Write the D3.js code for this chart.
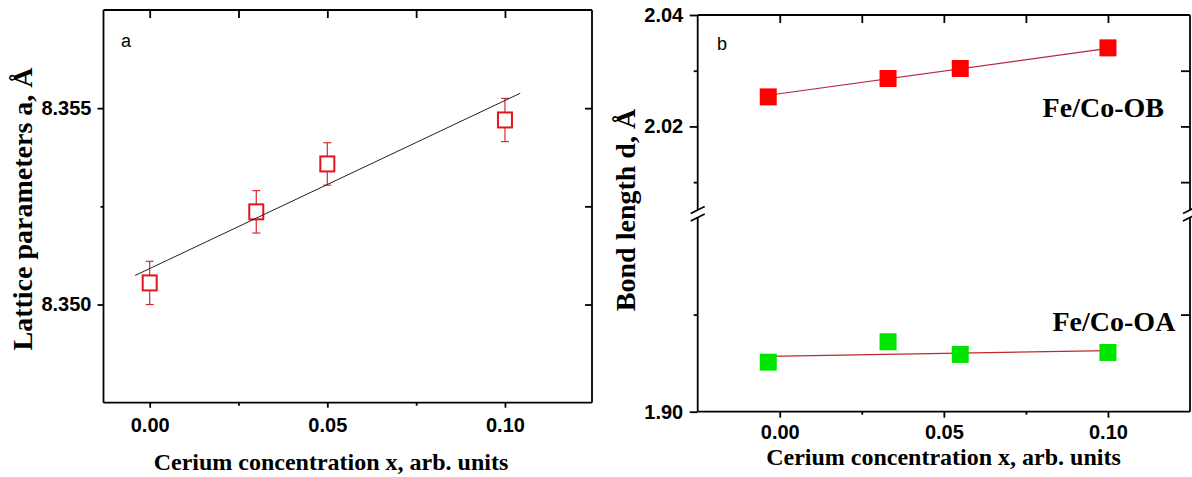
<!DOCTYPE html>
<html>
<head>
<meta charset="utf-8">
<script src="https://cdn.jsdelivr.net/npm/d3@7"></script>
<style>
  html, body { margin: 0; padding: 0; background: #fff; }
  svg { display: block; }
</style>
</head>
<body>
<svg id="chart" width="1192" height="477"></svg>
<script>
// ---------------- DATA ----------------
// Panel a: lattice parameter vs cerium concentration
const xA = [0.00, 0.03, 0.05, 0.10];
const latticeA = [8.35055, 8.35236, 8.35358, 8.35470];
const latticeErr = [0.00055, 0.00054, 0.00054, 0.00055];
const fitAx = [-0.0041, 0.1043];
const fitAy = [8.35074, 8.35538];
const xTicksMajorA = [0.00, 0.05, 0.10];
const xTicksMinorA = [0.025, 0.075];
const yTicksMajorA = [8.350, 8.355];
const yTicksMinorA = [8.3525];

// Panel b: bond lengths
const xB = [-0.0035, 0.033, 0.055, 0.100];
const bondOB = [2.0253, 2.0286, 2.0304, 2.0341];
const bondOA = [1.9051, 1.9072, 1.9059, 1.9061];
const fitOBx = [-0.0035, 0.100];
const fitOBy = [2.0256, 2.0340];
const fitOAx = [-0.0035, 0.100];
const fitOAy = [1.9057, 1.9063];
const xTicksMajorB = [0.00, 0.05, 0.10];
const xTicksMinorB = [0.025, 0.075];
const yTopMajorB = [2.02, 2.04];
const yTopMinorB = [2.01, 2.03];
const yBotMajorB = [1.90];
const yBotMinorB = [1.91];

// ---------------- DRAWING ----------------
const svg = d3.select('#chart');
const SANS = 'Liberation Sans, Arial, sans-serif';
const SERIF = 'Liberation Serif, Times New Roman, serif';
const AXW = 1.8;

function styleAxis(g) {
  g.select('.domain').remove();
  g.selectAll('line').attr('stroke', '#000').attr('stroke-width', AXW);
  g.selectAll('text').attr('font-family', SANS).attr('font-weight', 'bold')
    .attr('font-size', 20).attr('fill', '#000');
  return g;
}
function addAxis(axis, tx, ty) {
  const g = svg.append('g').attr('transform', `translate(${tx},${ty})`).call(axis);
  return styleAxis(g);
}
function line(x1, y1, x2, y2, w, c) {
  svg.append('line').attr('x1', x1).attr('y1', y1).attr('x2', x2).attr('y2', y2)
    .attr('stroke', c || '#000').attr('stroke-width', w || AXW);
}

// ===== Panel a =====
const LA = { left: 103.5, right: 592, top: 10, bottom: 402.7 };
const xL = d3.scaleLinear().domain([-0.013, 0.1245]).range([LA.left, LA.right]);
const yL = d3.scaleLinear().domain([8.3475, 8.3575]).range([LA.bottom, LA.top]);

// frame
line(LA.left, LA.top, LA.right, LA.top);
line(LA.left, LA.bottom, LA.right, LA.bottom);
line(LA.left, LA.top, LA.left, LA.bottom);
line(LA.right, LA.top, LA.right, LA.bottom);

addAxis(d3.axisBottom(xL).tickValues(xTicksMajorA).tickSize(5).tickPadding(10)
  .tickFormat(d3.format('.2f')).tickSizeOuter(0), 0, LA.bottom);
addAxis(d3.axisBottom(xL).tickValues(xTicksMinorA).tickSize(3).tickFormat('').tickSizeOuter(0), 0, LA.bottom);
addAxis(d3.axisTop(xL).tickValues(xTicksMajorA.concat(xTicksMinorA)).tickSize(-8).tickFormat('').tickSizeOuter(0), 0, LA.top);
addAxis(d3.axisLeft(yL).tickValues(yTicksMajorA).tickSize(6).tickPadding(6)
  .tickFormat(d3.format('.3f')).tickSizeOuter(0), LA.left, 0);
addAxis(d3.axisLeft(yL).tickValues(yTicksMinorA).tickSize(3).tickFormat('').tickSizeOuter(0), LA.left, 0);
addAxis(d3.axisRight(yL).tickValues(yTicksMajorA.concat(yTicksMinorA)).tickSize(-7).tickFormat('').tickSizeOuter(0), LA.right, 0);

// error bars
const ptsA = xA.map((x, i) => ({ x, y: latticeA[i], e: latticeErr[i] }));
const eb = svg.append('g').attr('stroke', '#e0282c').attr('stroke-width', 1.2);
ptsA.forEach(p => {
  const cx = xL(p.x);
  eb.append('line').attr('x1', cx).attr('x2', cx).attr('y1', yL(p.y - p.e)).attr('y2', yL(p.y + p.e));
  eb.append('line').attr('x1', cx - 4).attr('x2', cx + 4).attr('y1', yL(p.y - p.e)).attr('y2', yL(p.y - p.e));
  eb.append('line').attr('x1', cx - 4).attr('x2', cx + 4).attr('y1', yL(p.y + p.e)).attr('y2', yL(p.y + p.e));
});
// open squares
svg.append('g').selectAll('rect').data(ptsA).join('rect')
  .attr('x', d => xL(d.x) - 7).attr('y', d => yL(d.y) - 7.5)
  .attr('width', 14).attr('height', 15)
  .attr('fill', '#fff').attr('stroke', '#e3141c').attr('stroke-width', 2);
// fit line
svg.append('path')
  .attr('d', d3.line().x(d => xL(d[0])).y(d => yL(d[1]))(fitAx.map((x, i) => [x, fitAy[i]])))
  .attr('fill', 'none').attr('stroke', '#222').attr('stroke-width', 1);

svg.append('text').attr('x', 121).attr('y', 47).text('a')
  .attr('font-family', SANS).attr('font-size', 18).attr('fill', '#000');
svg.append('text').attr('transform', 'translate(32,209) rotate(-90)')
  .attr('text-anchor', 'middle').attr('font-family', SERIF).attr('font-weight', 'bold')
  .attr('font-size', 28).attr('fill', '#000').text('Lattice parameters a, Å');
svg.append('text').attr('x', 331).attr('y', 470)
  .attr('text-anchor', 'middle').attr('font-family', SERIF).attr('font-weight', 'bold')
  .attr('font-size', 24).attr('fill', '#000').text('Cerium concentration x, arb. units');

// ===== Panel b =====
const LB = { left: 697.7, right: 1190, top: 15, bottom: 411.7, brkTop: 210, brkBot: 217.5 };
const xR = d3.scaleLinear().domain([-0.025, 0.125]).range([LB.left, LB.right]);
const yTop = d3.scaleLinear().domain([2.005, 2.04]).range([LB.brkTop, LB.top]);
const yBot = d3.scaleLinear().domain([1.90, 1.92]).range([LB.bottom, LB.brkBot]);

// frame with break
line(LB.left, LB.top, LB.right, LB.top);
line(LB.left, LB.bottom, LB.right, LB.bottom);
[LB.left, LB.right].forEach(x0 => {
  line(x0, LB.top, x0, LB.brkTop);
  line(x0, LB.brkBot, x0, LB.bottom);
  [LB.brkTop, LB.brkBot].forEach(yb => {
    line(x0 - 7, yb + 3.5, x0 + 7, yb - 3.5, 1.6);
  });
});

addAxis(d3.axisBottom(xR).tickValues(xTicksMajorB).tickSize(6).tickPadding(7.5)
  .tickFormat(d3.format('.2f')).tickSizeOuter(0), 0, LB.bottom);
addAxis(d3.axisBottom(xR).tickValues(xTicksMinorB).tickSize(3).tickFormat('').tickSizeOuter(0), 0, LB.bottom);
addAxis(d3.axisTop(xR).tickValues(xTicksMajorB.concat(xTicksMinorB)).tickSize(-8).tickFormat('').tickSizeOuter(0), 0, LB.top);
addAxis(d3.axisLeft(yTop).tickValues(yTopMajorB).tickSize(8).tickPadding(6.5)
  .tickFormat(d3.format('.2f')).tickSizeOuter(0), LB.left, 0);
addAxis(d3.axisLeft(yTop).tickValues(yTopMinorB).tickSize(4).tickFormat('').tickSizeOuter(0), LB.left, 0);
addAxis(d3.axisLeft(yBot).tickValues(yBotMajorB).tickSize(8).tickPadding(6.5)
  .tickFormat(d3.format('.2f')).tickSizeOuter(0), LB.left, 0);
addAxis(d3.axisLeft(yBot).tickValues(yBotMinorB).tickSize(4).tickFormat('').tickSizeOuter(0), LB.left, 0);
addAxis(d3.axisRight(yTop).tickValues([2.01, 2.02, 2.03]).tickSize(-9).tickFormat('').tickSizeOuter(0), LB.right, 0);
addAxis(d3.axisRight(yBot).tickValues(yBotMinorB).tickSize(-9).tickFormat('').tickSizeOuter(0), LB.right, 0);

// fit lines
const lineTop = d3.line().x(d => xR(d[0])).y(d => yTop(d[1]));
const lineBot = d3.line().x(d => xR(d[0])).y(d => yBot(d[1]));
svg.append('path').attr('d', lineTop(fitOBx.map((x, i) => [x, fitOBy[i]])))
  .attr('fill', 'none').attr('stroke', '#b8283e').attr('stroke-width', 1.2);
svg.append('path').attr('d', lineBot(fitOAx.map((x, i) => [x, fitOAy[i]])))
  .attr('fill', 'none').attr('stroke', '#c0282c').attr('stroke-width', 1.2);

// filled squares
const S = 17;
svg.append('g').selectAll('rect').data(xB.map((x, i) => ({ x, y: bondOB[i] }))).join('rect')
  .attr('x', d => xR(d.x) - S / 2).attr('y', d => yTop(d.y) - S / 2)
  .attr('width', S).attr('height', S).attr('fill', '#ff0000');
svg.append('g').selectAll('rect').data(xB.map((x, i) => ({ x, y: bondOA[i] }))).join('rect')
  .attr('x', d => xR(d.x) - S / 2).attr('y', d => yBot(d.y) - S / 2)
  .attr('width', S).attr('height', S).attr('fill', '#00e400');

svg.append('text').attr('x', 717).attr('y', 50).text('b')
  .attr('font-family', SANS).attr('font-size', 18).attr('fill', '#000');
svg.append('text').attr('x', 1042.6).attr('y', 116.7).text('Fe/Co-OB')
  .attr('font-family', SERIF).attr('font-weight', 'bold').attr('font-size', 28).attr('fill', '#000');
svg.append('text').attr('x', 1052.5).attr('y', 330.7).text('Fe/Co-OA')
  .attr('font-family', SERIF).attr('font-weight', 'bold').attr('font-size', 28).attr('fill', '#000');
svg.append('text').attr('transform', 'translate(635,210) rotate(-90)')
  .attr('text-anchor', 'middle').attr('font-family', SERIF).attr('font-weight', 'bold')
  .attr('font-size', 28).attr('fill', '#000').text('Bond length d, Å');
svg.append('text').attr('x', 943.5).attr('y', 465)
  .attr('text-anchor', 'middle').attr('font-family', SERIF).attr('font-weight', 'bold')
  .attr('font-size', 24).attr('fill', '#000').text('Cerium concentration x, arb. units');
</script>
</body>
</html>
